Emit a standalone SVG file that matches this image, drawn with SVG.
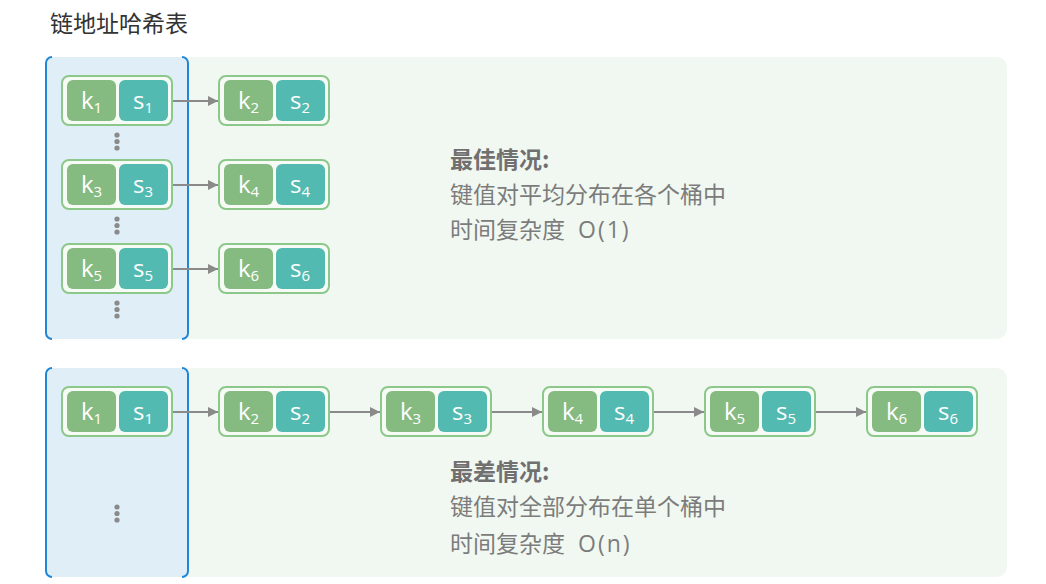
<svg xmlns="http://www.w3.org/2000/svg" width="1046" height="584" viewBox="0 0 1046 584">
<defs>
<style>
.panel{fill:#f1f8f1}
.bucket{fill:#e0eef8}
.bedge{fill:none;stroke:#1f87d6;stroke-width:2}
.outer{fill:#f7fbf6;stroke:#8bc88a;stroke-width:2}
.k{fill:#85ba81}
.s{fill:#53bab1}
.lbl{font-family:"Open Sans","Noto Sans",sans-serif;font-size:24px;fill:#ffffff}
.sub{font-size:15px}
.dot{fill:#8a8a8a}
.edge{stroke:#8a8a8a;stroke-width:2;fill:none}
.txt{font-family:"Noto Sans CJK SC","Noto Sans",sans-serif;font-size:23px;fill:#7c7c7c}
.lat{font-family:"Open Sans","Noto Sans",sans-serif;letter-spacing:2px}
.bold{font-weight:bold;fill:#707070}
.title{font-family:"Noto Sans CJK SC","Noto Sans",sans-serif;font-size:23px;fill:#333333}
</style>
<marker id="arr" viewBox="0 0 10 10" refX="10" refY="5" markerWidth="5" markerHeight="5" orient="auto" markerUnits="strokeWidth">
<path d="M0,0 L10,5 L0,10 Z" fill="#8a8a8a"/>
</marker>
<g id="kv">
<rect class="outer" x="0" y="0" width="110" height="49" rx="7"/>
<rect class="k" x="5" y="4" width="49" height="41" rx="6"/>
<rect class="s" x="57" y="4" width="49" height="41" rx="6"/>
</g>
</defs>

<text class="title" x="50" y="32">链地址哈希表</text>

<g id="panels">
<rect class="panel" x="46" y="57" width="961" height="282" rx="10"/>
<rect class="bucket" x="46" y="57" width="142" height="282" rx="6"/>
<path class="bedge" d="M52,57 A6,6 0 0 0 46,63 L46,333 A6,6 0 0 0 52,339"/>
<path class="bedge" d="M182,57 A6,6 0 0 1 188,63 L188,333 A6,6 0 0 1 182,339"/>
<rect class="panel" x="46" y="368" width="961" height="209" rx="10"/>
<rect class="bucket" x="46" y="368" width="142" height="209" rx="6"/>
<path class="bedge" d="M52,368 A6,6 0 0 0 46,374 L46,571 A6,6 0 0 0 52,577"/>
<path class="bedge" d="M182,368 A6,6 0 0 1 188,374 L188,571 A6,6 0 0 1 182,577"/>
</g>

<g id="connectors">
<line class="edge" x1="172" y1="101" x2="218" y2="101" marker-end="url(#arr)"/>
<line class="edge" x1="172" y1="185" x2="218" y2="185" marker-end="url(#arr)"/>
<line class="edge" x1="172" y1="269" x2="218" y2="269" marker-end="url(#arr)"/>
<line class="edge" x1="172" y1="412" x2="218" y2="412" marker-end="url(#arr)"/>
<line class="edge" x1="329" y1="412" x2="380" y2="412" marker-end="url(#arr)"/>
<line class="edge" x1="491" y1="412" x2="542" y2="412" marker-end="url(#arr)"/>
<line class="edge" x1="653" y1="412" x2="704" y2="412" marker-end="url(#arr)"/>
<line class="edge" x1="815" y1="412" x2="866" y2="412" marker-end="url(#arr)"/>
</g>

<g id="dots">
<circle class="dot" cx="117" cy="135" r="2.6"/><circle class="dot" cx="117" cy="141.5" r="2.6"/><circle class="dot" cx="117" cy="148" r="2.6"/>
<circle class="dot" cx="117" cy="219" r="2.6"/><circle class="dot" cx="117" cy="225.5" r="2.6"/><circle class="dot" cx="117" cy="232" r="2.6"/>
<circle class="dot" cx="117" cy="303" r="2.6"/><circle class="dot" cx="117" cy="309.5" r="2.6"/><circle class="dot" cx="117" cy="316" r="2.6"/>
<circle class="dot" cx="117" cy="507" r="2.6"/><circle class="dot" cx="117" cy="513.5" r="2.6"/><circle class="dot" cx="117" cy="520" r="2.6"/>
</g>

<g id="n-top-1"><use href="#kv" x="62" y="76"/>
<text class="lbl" x="81" y="109">k<tspan class="sub" dy="4">1</tspan></text>
<text class="lbl" x="133" y="109">s<tspan class="sub" dy="4">1</tspan></text></g>
<g id="n-top-2"><use href="#kv" x="219" y="76"/>
<text class="lbl" x="238" y="109">k<tspan class="sub" dy="4">2</tspan></text>
<text class="lbl" x="290" y="109">s<tspan class="sub" dy="4">2</tspan></text></g>
<g id="n-top-3"><use href="#kv" x="62" y="160"/>
<text class="lbl" x="81" y="193">k<tspan class="sub" dy="4">3</tspan></text>
<text class="lbl" x="133" y="193">s<tspan class="sub" dy="4">3</tspan></text></g>
<g id="n-top-4"><use href="#kv" x="219" y="160"/>
<text class="lbl" x="238" y="193">k<tspan class="sub" dy="4">4</tspan></text>
<text class="lbl" x="290" y="193">s<tspan class="sub" dy="4">4</tspan></text></g>
<g id="n-top-5"><use href="#kv" x="62" y="244"/>
<text class="lbl" x="81" y="277">k<tspan class="sub" dy="4">5</tspan></text>
<text class="lbl" x="133" y="277">s<tspan class="sub" dy="4">5</tspan></text></g>
<g id="n-top-6"><use href="#kv" x="219" y="244"/>
<text class="lbl" x="238" y="277">k<tspan class="sub" dy="4">6</tspan></text>
<text class="lbl" x="290" y="277">s<tspan class="sub" dy="4">6</tspan></text></g>

<g id="n-bot-1"><use href="#kv" x="62" y="387"/>
<text class="lbl" x="81" y="420">k<tspan class="sub" dy="4">1</tspan></text>
<text class="lbl" x="133" y="420">s<tspan class="sub" dy="4">1</tspan></text></g>
<g id="n-bot-2"><use href="#kv" x="219" y="387"/>
<text class="lbl" x="238" y="420">k<tspan class="sub" dy="4">2</tspan></text>
<text class="lbl" x="290" y="420">s<tspan class="sub" dy="4">2</tspan></text></g>
<g id="n-bot-3"><use href="#kv" x="381" y="387"/>
<text class="lbl" x="400" y="420">k<tspan class="sub" dy="4">3</tspan></text>
<text class="lbl" x="452" y="420">s<tspan class="sub" dy="4">3</tspan></text></g>
<g id="n-bot-4"><use href="#kv" x="543" y="387"/>
<text class="lbl" x="562" y="420">k<tspan class="sub" dy="4">4</tspan></text>
<text class="lbl" x="614" y="420">s<tspan class="sub" dy="4">4</tspan></text></g>
<g id="n-bot-5"><use href="#kv" x="705" y="387"/>
<text class="lbl" x="724" y="420">k<tspan class="sub" dy="4">5</tspan></text>
<text class="lbl" x="776" y="420">s<tspan class="sub" dy="4">5</tspan></text></g>
<g id="n-bot-6"><use href="#kv" x="867" y="387"/>
<text class="lbl" x="886" y="420">k<tspan class="sub" dy="4">6</tspan></text>
<text class="lbl" x="938" y="420">s<tspan class="sub" dy="4">6</tspan></text></g>

<g id="best-text">
<text class="txt bold" x="450" y="168">最佳情况:</text>
<text class="txt" x="450" y="203">键值对平均分布在各个桶中</text>
<text class="txt" x="450" y="238">时间复杂度<tspan class="lat" x="578">O(1)</tspan></text>
</g>
<g id="worst-text">
<text class="txt bold" x="450" y="480">最差情况:</text>
<text class="txt" x="450" y="515">键值对全部分布在单个桶中</text>
<text class="txt" x="450" y="552">时间复杂度<tspan class="lat" x="578">O(n)</tspan></text>
</g>
</svg>
